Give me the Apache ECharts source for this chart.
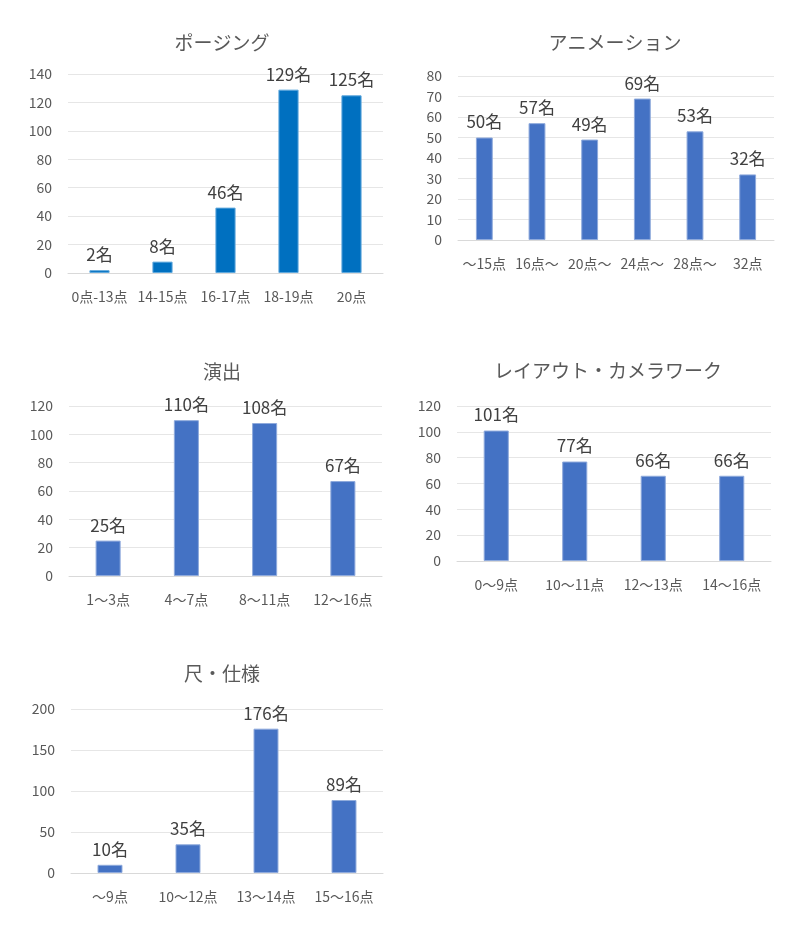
<!DOCTYPE html>
<html><head><meta charset="utf-8">
<script src="https://cdn.jsdelivr.net/npm/echarts@6/dist/echarts.min.js"></script>
<style>html,body{margin:0;padding:0;background:#fff}#c{width:800px;height:937px}</style>
</head><body><div id="c"></div>
<script>
const titles = ['ポージング','アニメーション','演出','レイアウト・カメラワーク','尺・仕様'];
const cats1 = ['0点-13点','14-15点','16-17点','18-19点','20点'];
const vals1 = [2,8,46,129,125];
const cats2 = ['〜15点','16点〜','20点〜','24点〜','28点〜','32点'];
const vals2 = [50,57,49,69,53,32];
const cats3 = ['1〜3点','4〜7点','8〜11点','12〜16点'];
const vals3 = [25,110,108,67];
const cats4 = ['0〜9点','10〜11点','12〜13点','14〜16点'];
const vals4 = [101,77,66,66];
const cats5 = ['〜9点','10〜12点','13〜14点','15〜16点'];
const vals5 = [10,35,176,89];
const yMax = [140,80,120,120,200];
const yInt = [20,10,20,20,50];

const F = '"Noto Sans CJK JP", "Noto Sans", sans-serif';
const layout = [
  {left:68, top:74, width:315, height:199, tx:217, ty:28, color:'#0070C0', border:'#5fa8dc'},
  {left:458, top:76, width:316, height:164, tx:610, ty:28, color:'#4472C4', border:'#8faadc'},
  {left:69, top:406, width:313, height:170, tx:217, ty:357, color:'#4472C4', border:'#8faadc'},
  {left:457, top:406, width:314, height:155, tx:603, ty:356, color:'#4472C4', border:'#8faadc'},
  {left:71, top:709, width:312, height:164, tx:217, ty:659, color:'#4472C4', border:'#8faadc'}
];
const cats = [cats1,cats2,cats3,cats4,cats5];
const vals = [vals1,vals2,vals3,vals4,vals5];

const option = {
  animation:false,
  title: titles.map((t,i)=>({text:t, left:layout[i].tx, top:layout[i].ty, textAlign:'center',
    textStyle:{fontFamily:F, fontSize:19, fontWeight:'normal', color:'#595959'}})),
  grid: layout.map(l=>({left:l.left, top:l.top, width:l.width, height:l.height})),
  xAxis: cats.map((c,i)=>({type:'category', data:c, gridIndex:i,
    axisLine:{show:true, lineStyle:{color:'#d9d9d9'}}, axisTick:{show:false},
    axisLabel:{fontFamily:F, fontSize:14, color:'#595959', margin:17, interval:0}})),
  yAxis: yMax.map((m,i)=>({type:'value', gridIndex:i, min:0, max:m, interval:yInt[i],
    axisLine:{show:false}, axisTick:{show:false},
    splitLine:{lineStyle:{color:'#e6e6e6'}},
    axisLabel:{fontFamily:F, fontSize:14, color:'#595959', margin:16}})),
  series: vals.map((v,i)=>({type:'bar', xAxisIndex:i, yAxisIndex:i, data:v, barWidth:'32%',
    itemStyle:{color:layout[i].color, borderColor:layout[i].border, borderWidth:1},
    label:{show:true, position:'top', distance:7, formatter:'{c}名', fontFamily:F, fontSize:17, color:'#404040'}}))
};
echarts.init(document.getElementById('c')).setOption(option);
</script></body></html>
